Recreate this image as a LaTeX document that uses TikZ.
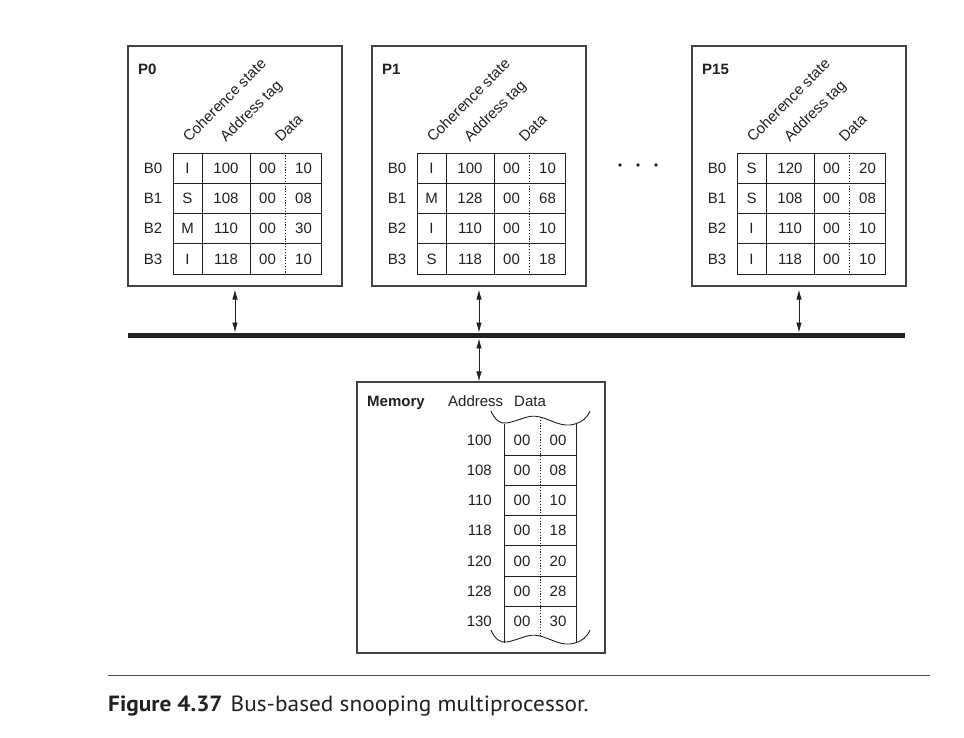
\documentclass[tikz,border=0pt]{standalone}
\usepackage{fontspec}
\setmainfont{Liberation Sans}
\newfontfamily\capfont[FakeStretch=1.06]{PT Sans}
\usetikzlibrary{positioning, arrows.meta}
\definecolor{ink}{RGB}{35,31,32}
\newcommand{\rowh}{30.3}
% one processor with its four cache blocks
\newcommand{\cachebox}[4]{%
  \node[cpubox] (#1) at (#2+107,166) {};
  \node[cpulabel] (#1name) at (#2+10,63.5) {#3};
  \node[hdr] (#1cs) at (#2+61,143) {Coherence state};
  \node[hdr] (#1at) at (#2+98,143) {Address tag};
  \node[hdr] (#1dt) at (#2+153,143) {Data};
  \foreach \st/\tag/\lo [count=\row from 0] in {#4} {
    \node (#1b\row) at (#2+25,168.15+\rowh*\row) {B\row};
    \node[cell, minimum width=29pt] (#1s\row) at (#2+59.5,168.15+\rowh*\row) {\st};
    \node[cell, minimum width=48pt] (#1t\row) at (#2+98,168.15+\rowh*\row) {\tag};
    \node[cell, minimum width=71pt] (#1d\row) at (#2+157.5,168.15+\rowh*\row) {};
    \draw[split] (#1d\row.north) -- (#1d\row.south);
    \node (#1h\row) at (#2+139.5,168.15+\rowh*\row) {00};
    \node (#1l\row) at (#2+175.5,168.15+\rowh*\row) {\lo};
  }%
}
% torn edge of the memory table, #1 = top of the tails
\newcommand{\tornedge}[1]{(491,#1) .. controls (495,#1+9) and (500,#1+13) .. (507,#1+12)
  .. controls (522,#1+9) and (528,#1+3) .. (540,#1+6)
  .. controls (552,#1+9) and (562,#1+17) .. (575,#1+13)
  .. controls (582,#1+11) and (587,#1+7) .. (590,#1)}

\begin{document}
\begin{tikzpicture}[x=1pt, y=-1pt,
  every node/.style={inner sep=0pt, font=\fontsize{15}{18}\selectfont, text=ink},
  cpubox/.style={draw=ink!85, line width=1.2pt, minimum width=214pt, minimum height=240pt},
  membox/.style={draw=ink!85, line width=1.2pt, minimum width=248pt, minimum height=271pt},
  cpulabel/.style={font=\bfseries\fontsize{15}{18}\selectfont, anchor=north west},
  hdr/.style={rotate=45, anchor=base west},
  cell/.style={draw=ink, line width=0.9pt, minimum height=30.3pt},
  grid/.style={ink, line width=0.9pt},
  split/.style={ink, line width=0.9pt, dash pattern=on 1.2pt off 1.6pt},
  bus/.style={fill=ink, minimum width=777pt, minimum height=5.5pt},
  link/.style={{Latex[length=10pt,width=5.5pt]}-{Latex[length=10pt,width=5.5pt]}, ink, line width=0.8pt}]
\useasboundingbox (0,0) rectangle (964,738);

\cachebox{p0}{128}{P0}{I/100/10, S/108/08, M/110/30, I/118/10}
\cachebox{p1}{372}{P1}{I/100/10, M/128/68, I/110/10, S/118/18}
\cachebox{p15}{692}{P15}{S/120/20, S/108/08, I/110/10, I/118/10}
\foreach \i in {0,1,2}
  \fill[ink] (620+18*\i,165) circle (1.8);

\node[bus] (bus) at (516.5,335.5) {};
\draw[link, shorten <=3pt] (p0.south) -- (p0.south |- bus.north);
\draw[link, shorten <=3pt] (p1.south) -- (p1.south |- bus.north);
\draw[link, shorten <=3pt] (p15.south) -- (p15.south |- bus.north);

% memory
\node[membox] (mem) at (481,517.5) {};
\draw[link] (bus.south -| p1.south) -- (mem.north -| p1.south);
\node[cpulabel, anchor=base west] (memname) at (367,406) {Memory};
\node[anchor=base west] (maddr) at (448,406) {Address};
\node[anchor=base west] (mdata) at (514,406) {Data};
\foreach \a/\lo [count=\row from 0] in {100/00, 108/08, 110/10, 118/18, 120/20, 128/28, 130/30} {
  \node[anchor=east] (ma\row) at (492,439.85+\rowh*\row) {\a};
  \node (mh\row) at (522,439.85+\rowh*\row) {00};
  \node (ml\row) at (558,439.85+\rowh*\row) {\lo};
}
\foreach \row in {1,...,6}
  \draw[grid] (504,424.7+\rowh*\row) -- (576,424.7+\rowh*\row);
\draw[grid] \tornedge{411};
\draw[grid] \tornedge{630};
\draw[grid] (504,423.5) -- (504,642.5);
\draw[grid] (576,423.8) -- (576,642.8);
\draw[split] (540,417) -- (540,636);

% caption
\draw[ink!80, line width=0.9pt] (108,675) -- (930,675);
\node[anchor=base west, font=\capfont\fontsize{22}{26}\selectfont] (cap) at (108,711)
  {\textbf{Figure 4.37}\hspace{8pt}Bus-based snooping multiprocessor.};
\end{tikzpicture}
\end{document}
